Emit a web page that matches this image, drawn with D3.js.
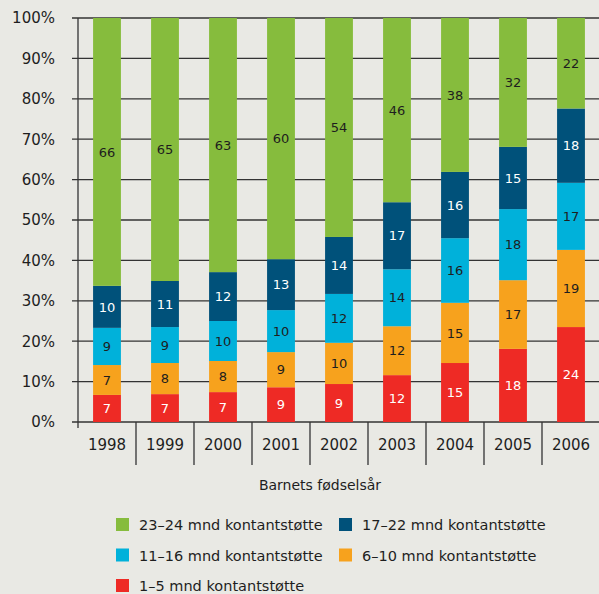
<!DOCTYPE html>
<html>
<head>
<meta charset="utf-8">
<script src="https://cdn.jsdelivr.net/npm/d3@7"></script>
<style>
  body { margin: 0; background: #e9e9e4; }
  svg { display: block; font-family: "DejaVu Sans", sans-serif; }
</style>
</head>
<body>
<div id="chart"></div>
<script>
let years = ["1998", "1999", "2000", "2001", "2002", "2003", "2004", "2005", "2006"];

// shares in percent
let m1to5   = [6.7, 6.9, 7.4, 8.6, 9.4, 11.6, 14.6, 18.1, 23.5];
let m6to10  = [7.4, 7.7, 7.7, 8.7, 10.2, 12.1, 14.9, 17.0, 19.1];
let m11to16 = [9.2, 8.9, 9.9, 10.4, 12.1, 14.1, 16.0, 17.6, 16.6];
let m17to22 = [10.4, 11.4, 12.1, 12.6, 14.1, 16.6, 16.4, 15.4, 18.4];
let m23to24 = [66.3, 65.1, 62.9, 59.7, 54.2, 45.6, 38.1, 31.9, 22.4];

let seriesNames = ["1–5 mnd kontantstøtte", "6–10 mnd kontantstøtte", "11–16 mnd kontantstøtte",
    "17–22 mnd kontantstøtte", "23–24 mnd kontantstøtte"];
let seriesColors = ["#ee2a25", "#f7a21d", "#00b1da", "#00517a", "#86bc3d"];
let labelColors = ["#ffffff", "#1e1e1e", "#1e1e1e", "#ffffff", "#1e1e1e"];

let yTicks = [0, 10, 20, 30, 40, 50, 60, 70, 80, 90, 100];
let xTitle = "Barnets fødselsår";

// legend order as in the picture (two columns)
let legendOrder = [4, 3, 2, 1, 0];

let width = 599;
let height = 594;
let plotLeft = 78;
let plotTop = 18;
let plotBottom = 422;

let rows = years.map(function (y, i) {
    return {
        year: y,
        s0: m1to5[i], s1: m6to10[i], s2: m11to16[i], s3: m17to22[i], s4: m23to24[i]
    };
});
let keys = ["s0", "s1", "s2", "s3", "s4"];

let stacked = d3.stack().keys(keys)(rows);

let x = d3.scaleBand()
    .domain(years)
    .range([plotLeft, plotLeft + 9 * 58])
    .paddingInner(0.52)
    .paddingOuter(0.26);

let y = d3.scaleLinear()
    .domain([0, 100])
    .range([plotBottom, plotTop]);

let svg = d3.select("#chart")
    .append("svg")
    .attr("width", width)
    .attr("height", height);

// horizontal gridlines
svg.append("g")
    .selectAll("line")
    .data(yTicks)
    .enter()
    .append("line")
    .attr("x1", plotLeft - 6)
    .attr("x2", width)
    .attr("y1", (d) => y(d))
    .attr("y2", (d) => y(d))
    .attr("stroke", "#333333")
    .attr("stroke-width", 1.3);

svg.append("g")
    .selectAll("text")
    .data(yTicks)
    .enter()
    .append("text")
    .attr("x", 55)
    .attr("y", (d) => y(d))
    .attr("dy", "0.36em")
    .attr("text-anchor", "end")
    .attr("font-size", 15)
    .attr("fill", "#1e1e1e")
    .text((d) => d + "%");

// bars
let groups = svg.append("g")
    .selectAll("g")
    .data(stacked)
    .enter()
    .append("g")
    .attr("fill", (d, i) => seriesColors[i]);

groups.selectAll("rect")
    .data((d) => d)
    .enter()
    .append("rect")
    .attr("x", (d) => x(d.data.year))
    .attr("width", x.bandwidth())
    .attr("y", (d) => y(d[1]))
    .attr("height", (d) => y(d[0]) - y(d[1]));

groups.selectAll("text")
    .data((d, i) => d.map(function (p) { return { p: p, i: i }; }))
    .enter()
    .append("text")
    .attr("x", (d) => x(d.p.data.year) + x.bandwidth() / 2)
    .attr("y", (d) => y((d.p[0] + d.p[1]) / 2))
    .attr("dy", "0.36em")
    .attr("text-anchor", "middle")
    .attr("font-size", 13)
    .attr("fill", (d) => labelColors[d.i])
    .text((d) => Math.round(d.p[1] - d.p[0]));

// y axis line
svg.append("line")
    .attr("x1", plotLeft).attr("x2", plotLeft)
    .attr("y1", plotTop).attr("y2", plotBottom + 6)
    .attr("stroke", "#333333")
    .attr("stroke-width", 1.3);

// category dividers
svg.append("g")
    .selectAll("line")
    .data(years.slice(1))
    .enter()
    .append("line")
    .attr("x1", (d) => x(d) - x.step() * x.paddingOuter())
    .attr("x2", (d) => x(d) - x.step() * x.paddingOuter())
    .attr("y1", plotBottom)
    .attr("y2", plotBottom + 43)
    .attr("stroke", "#333333")
    .attr("stroke-width", 1.3);

svg.append("g")
    .selectAll("text")
    .data(years)
    .enter()
    .append("text")
    .attr("x", (d) => x(d) + x.bandwidth() / 2)
    .attr("y", 450)
    .attr("text-anchor", "middle")
    .attr("font-size", 15)
    .attr("fill", "#1e1e1e")
    .text((d) => d);

svg.append("text")
    .attr("x", 320)
    .attr("y", 490)
    .attr("text-anchor", "middle")
    .attr("font-size", 14)
    .attr("fill", "#1e1e1e")
    .text(xTitle);

// legend
let legend = svg.append("g")
    .selectAll("g")
    .data(legendOrder)
    .enter()
    .append("g")
    .attr("transform", function (d, i) {
        let col = i % 2;
        let row = Math.floor(i / 2);
        return "translate(" + (116 + col * 223) + "," + (518 + row * 30.5) + ")";
    });

legend.append("rect")
    .attr("width", 13)
    .attr("height", 13)
    .attr("fill", (d) => seriesColors[d]);

legend.append("text")
    .attr("x", 23)
    .attr("y", 7)
    .attr("dy", "0.36em")
    .attr("font-size", 14.5)
    .attr("fill", "#1e1e1e")
    .text((d) => seriesNames[d]);
</script>
</body>
</html>
